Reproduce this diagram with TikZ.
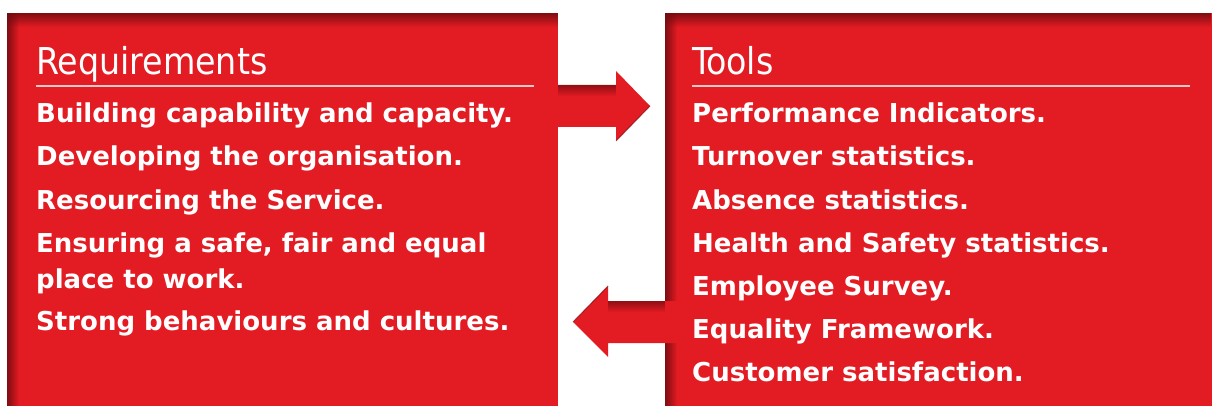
\documentclass[tikz,border=0pt]{standalone}
\usepackage{fontspec}
\setmainfont{DejaVu Sans}
\newfontfamily\titlefont{DejaVu Sans Condensed}
\usetikzlibrary{fadings}
\definecolor{panelred}{HTML}{E31B23}
\definecolor{shadowred}{HTML}{6E0B0F}
\tikzset{
  panel/.style={fill=panelred},
  title/.style={anchor=base west, text=white, inner sep=0pt, font=\titlefont\fontsize{37}{37}\selectfont},
  entry/.style={anchor=base west, text=white, inner sep=0pt, font=\bfseries\fontsize{26}{26}\selectfont},
  rulebar/.style={draw=white!75!panelred, line width=1.5pt},
  edgeshade/.style={fill=shadowred, opacity=0.85},
}
\begin{document}
\begin{tikzpicture}[x=1pt,y=-1pt]
\useasboundingbox (0,0) rectangle (1212,406);
\fill[white] (0,0) rectangle (1212,406);
% panels
\fill[panel] (7,13) rectangle (558,406);
\fill[panel] (665,13) rectangle (1212,406);
% inner shadows along top and left edges
\foreach \xa/\xb in {7/558,665/1212}{
  \fill[edgeshade, path fading=south] (\xa,13) rectangle (\xb,27);
  \fill[edgeshade, path fading=east] (\xa,13) rectangle (\xa+12,406);
}
% arrows
\fill[panel] (540,85) -- (616,85) -- (616,71) -- (650,106) -- (616,141) -- (616,127) -- (540,127) -- cycle;
\fill[shadowred, opacity=0.7, path fading=south] (558,85) rectangle (616,96);
\draw[shadowred, line width=1pt, opacity=0.6] (650,106) -- (616,141);
\fill[panel] (685,301) -- (608,301) -- (608,286) -- (573,322) -- (608,357) -- (608,343) -- (685,343) -- cycle;
\fill[shadowred, opacity=0.7, path fading=south] (608,301) rectangle (665,312);
\draw[shadowred, line width=1pt, opacity=0.6] (573,322) -- (608,286);
% titles
\node[title] (treq) at (36,75) {Requirements};
\node[title] (ttools) at (692,75) {Tools};
\draw[rulebar] (36,86) -- (534,86);
\draw[rulebar] (692,86) -- (1190,86);
% left entries
\node[entry] (l1) at (36,123) {Building capability and capacity.};
\node[entry] (l2) at (36,166) {Developing the organisation.};
\node[entry] (l3) at (36,209) {Resourcing the Service.};
\node[entry] (l4) at (36,252) {Ensuring a safe, fair and equal};
\node[entry] (l5) at (36,288) {place to work.};
\node[entry] (l6) at (36,330) {Strong behaviours and cultures.};
% right entries
\node[entry] (r1) at (692,123) {Performance Indicators.};
\node[entry] (r2) at (692,166) {Turnover statistics.};
\node[entry] (r3) at (692,209) {Absence statistics.};
\node[entry] (r4) at (692,252) {Health and Safety statistics.};
\node[entry] (r5) at (692,295) {Employee Survey.};
\node[entry] (r6) at (692,338) {Equality Framework.};
\node[entry] (r7) at (692,381) {Customer satisfaction.};
\end{tikzpicture}
\end{document}
